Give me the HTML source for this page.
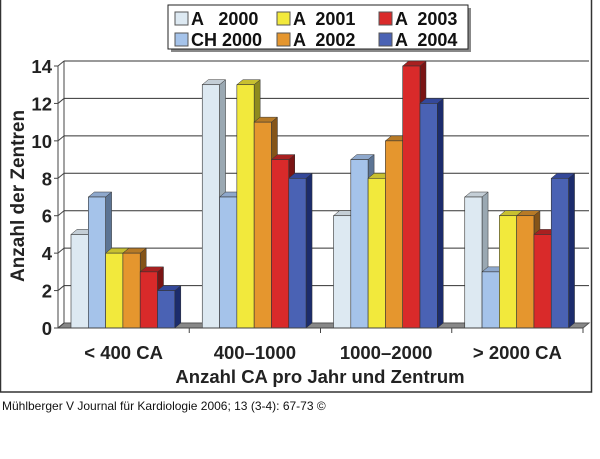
<!DOCTYPE html>
<html><head><meta charset="utf-8"><style>
body{margin:0;background:#fff;width:600px;height:454px;overflow:hidden;font-family:"Liberation Sans",sans-serif}
</style></head><body>
<svg width="600" height="454" xmlns="http://www.w3.org/2000/svg" font-family="Liberation Sans, sans-serif">
<rect x="0.5" y="-1" width="591" height="393" fill="#fff" stroke="#333" stroke-width="1.5"/>
<g id="grid"></g>
<g id="bars"></g>
<g id="axes"></g>
<text transform="translate(24,196) rotate(-90)" text-anchor="middle" font-size="19" font-weight="bold" fill="#222">Anzahl der Zentren</text>
<text x="320" y="383" text-anchor="middle" font-size="18.5" font-weight="bold" fill="#222">Anzahl CA pro Jahr und Zentrum</text>
<g>
<rect x="171" y="8" width="300" height="44" fill="#888"/>
<rect x="168" y="5" width="300" height="44" fill="#fff" stroke="#222"/>
<g id="legend"></g>
</g>
<text x="2" y="410" font-size="12" fill="#111">Mühlberger V Journal für Kardiologie 2006; 13 (3-4): 67-73 ©</text>
<script>
const categories=["< 400 CA","400–1000","1000–2000","> 2000 CA"];
const seriesNames=["A   2000","CH 2000","A  2001","A  2002","A  2003","A  2004"];
const sA2000=[5,13,6,7];
const sCH2000=[7,7,9,3];
const sA2001=[4,13,8,6];
const sA2002=[4,11,10,6];
const sA2003=[3,9,14,5];
const sA2004=[2,8,12,8];
const yTicks=[0,2,4,6,8,10,12,14];
const series=[sA2000,sCH2000,sA2001,sA2002,sA2003,sA2004];
const colors=[["#dde9f2","#9aa8b2","#c4ced6"],["#a5c3ea","#5c7494","#8ea8cc"],["#f2e93c","#8e8a1e","#c8c030"],["#e5962e","#845418","#b77a26"],["#d92a2a","#7a1414","#a82020"],["#4a62b4","#1c2c6c","#34489a"]];
const NS="http://www.w3.org/2000/svg";
const x0=58,x1=583,yb=328,yt=66,dx=6,dy=5;
const y=v=>yb-(v/14)*(yb-yt);
const gw=(x1-x0)/categories.length, bw=17.3;
function mk(tag,attrs,parent){const e=document.createElementNS(NS,tag);for(const k in attrs)e.setAttribute(k,attrs[k]);parent.appendChild(e);return e;}
const grid=document.getElementById('grid'),bars=document.getElementById('bars'),axes=document.getElementById('axes');
mk('polygon',{points:`${x0},${yb} ${x0+dx},${yb-dy} ${x1+dx},${yb-dy} ${x1},${yb}`,fill:'#888',stroke:'#555'},grid);
mk('line',{x1:x0+dx,y1:y(14)-dy,x2:x0+dx,y2:yb-dy,stroke:'#444'},grid);
yTicks.forEach(t=>{
 const g=mk('line',{x1:x0,y1:y(t),x2:x0+dx,y2:y(t)-dy,stroke:'#444'},grid);
 
 
 if(t>0){const l=mk('line',{x1:x0+dx,y1:y(t)-dy,x2:x1+dx,y2:y(t)-dy,stroke:'#333'},grid);
 
 }
 const tx=mk('text',{x:x0-6,y:y(t)+7,'text-anchor':'end','font-size':'18.5','font-weight':'bold',fill:'#222'},axes);
 tx.textContent=t;
 
 
 mk('line',{x1:x0-4,y1:y(t),x2:x0,y2:y(t),stroke:'#444'},axes);
});
mk('line',{x1:x0,y1:y(14),x2:x0,y2:yb,stroke:'#444'},axes);
mk('line',{x1:x0,y1:yb,x2:x1,y2:yb,stroke:'#444'},axes);
categories.forEach((c,i)=>{
 const gx=x0+i*gw;
 mk('line',{x1:gx+gw,y1:yb,x2:gx+gw,y2:yb+5,stroke:'#444'},axes);
 const t=mk('text',{x:gx+gw/2,y:yb+31,'text-anchor':'middle','font-size':'18.5','font-weight':'bold',fill:'#222'},axes);
 t.textContent=c;
 
 
 series.forEach((s,j)=>{
  const bx=gx+13+j*bw, by=y(s[i]);
  const g=mk('g',{},bars);
  
  
  mk('polygon',{points:`${bx+bw},${by} ${bx+bw+dx},${by-dy} ${bx+bw+dx},${yb-dy} ${bx+bw},${yb}`,fill:colors[j][1],stroke:'#333','stroke-width':0.5},g);
  mk('polygon',{points:`${bx},${by} ${bx+dx},${by-dy} ${bx+bw+dx},${by-dy} ${bx+bw},${by}`,fill:colors[j][2],stroke:'#333','stroke-width':0.5},g);
  mk('rect',{x:bx,y:by,width:bw,height:yb-by,fill:colors[j][0],stroke:'#333','stroke-width':0.6},g);
 });
});
const lg=document.getElementById('legend');
seriesNames.forEach((n,j)=>{
 const col=Math.floor(j/2),row=j%2;
 const lx=175+col*102, ly=10+row*21;
 const r=mk('rect',{x:lx,y:ly+2,width:13,height:13,fill:colors[j][0],stroke:'#555'},lg);
 
 
 const t=mk('text',{x:lx+16,y:ly+15,'font-size':'18','font-weight':'bold',fill:'#111','xml:space':'preserve'},lg);
 t.setAttribute('style','white-space:pre');
 t.textContent=n;
 
 
});
</script>
</svg>
</body></html>
